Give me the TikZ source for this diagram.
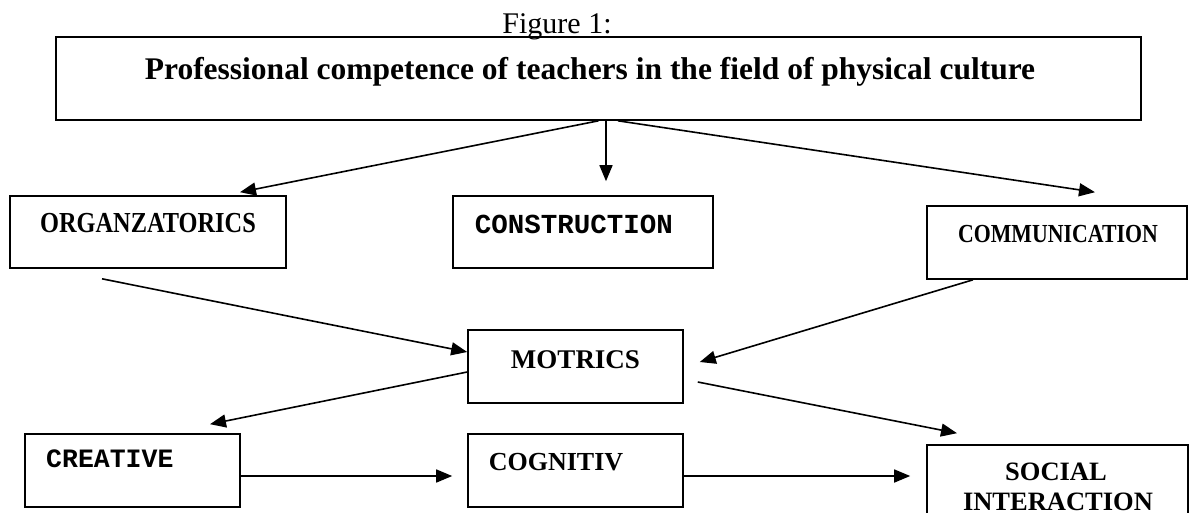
\documentclass[tikz,border=0pt]{standalone}
\usepackage{fontspec}
\usepackage{graphicx}
\setmainfont{Liberation Serif}
\newfontfamily\monofam{Liberation Mono}
\usetikzlibrary{arrows.meta}
\tikzset{
  boxnode/.style={draw, line width=1.6pt, rectangle, inner sep=0pt},
  conn/.style={line width=1.6pt, -{Triangle[length=16pt,width=13pt]}},
  txt/.style={anchor=base, inner sep=0pt},
}
\newcommand{\fs}[1]{\fontsize{#1}{#1}\selectfont}
\begin{document}
\begin{tikzpicture}[x=1pt,y=-1pt]
\clip (0,0) rectangle (1189,512);
\fill[white] (0,0) rectangle (1189,512);
% boxes
\node[boxnode, minimum width=1085pt, minimum height=83pt] (top) at (598.5,78.5) {};
\node[boxnode, minimum width=276pt, minimum height=72pt] (org) at (148,232) {};
\node[boxnode, minimum width=260pt, minimum height=72pt] (cons) at (583,232) {};
\node[boxnode, minimum width=260pt, minimum height=73pt] (comm) at (1057,242.5) {};
\node[boxnode, minimum width=215pt, minimum height=73pt] (mot) at (575.5,366.5) {};
\node[boxnode, minimum width=215pt, minimum height=73pt] (cre) at (132.5,470.5) {};
\node[boxnode, minimum width=215pt, minimum height=73pt] (cog) at (575.5,470.5) {};
\node[boxnode, minimum width=261pt, minimum height=80pt] (soc) at (1057.5,485) {};
% texts
\node[txt] (fig) at (557,33) {\fs{30}Figure 1:};
\node[txt] (ttl) at (590,79) {\fs{31.5}\bfseries Professional competence of teachers in the field of physical culture};
\node[txt] (torg) at (148,232) {\fs{29}\bfseries\scalebox{0.84}[1]{ORGANZATORICS}};
\node[txt] (tcons) at (574,233) {\fs{27.5}\monofam\bfseries CONSTRUCTION};
\node[txt] (tcomm) at (1058,242) {\fs{26}\bfseries\scalebox{0.84}[1]{COMMUNICATION}};
\node[txt] (tmot) at (575.5,368) {\fs{27}\bfseries MOTRICS};
\node[txt, anchor=base west] (tcre) at (46,467) {\fs{26.5}\monofam\bfseries CREATIVE};
\node[txt] (tcog) at (556,470) {\fs{26}\bfseries COGNITIV};
\node[txt] (tsoc1) at (1056,480) {\fs{26.5}\bfseries SOCIAL};
\node[txt] (tsoc2) at (1058,510) {\fs{26.5}\bfseries INTERACTION};
% connectors
\draw[conn] (top.south) -- ([xshift=92pt,yshift=3pt]org.north);
\draw[conn] ([xshift=7.5pt]top.south) -- ([xshift=23pt,yshift=14pt]cons.north);
\draw[conn] ([xshift=19.5pt]top.south) -- ([xshift=38pt,yshift=13pt]comm.north);
\draw[conn] ([xshift=-46pt,yshift=-10pt]org.south) -- ([yshift=14.5pt]mot.west);
\draw[conn] ([xshift=-84pt]comm.south) -- ([xshift=16pt,yshift=4.5pt]mot.east);
\draw[conn] ([yshift=-5.5pt]mot.west) -- ([xshift=77.5pt,yshift=9pt]cre.north);
\draw[conn] ([xshift=14pt,yshift=-15.5pt]mot.east) -- ([xshift=-100.5pt,yshift=11pt]soc.north);
\draw[conn] ([yshift=-5.5pt]cre.east) -- ([xshift=-15pt,yshift=-5.5pt]cog.west);
\draw[conn] ([yshift=-5.5pt]cog.east) -- ([xshift=-16pt,yshift=9pt]soc.west);
\end{tikzpicture}
\end{document}
